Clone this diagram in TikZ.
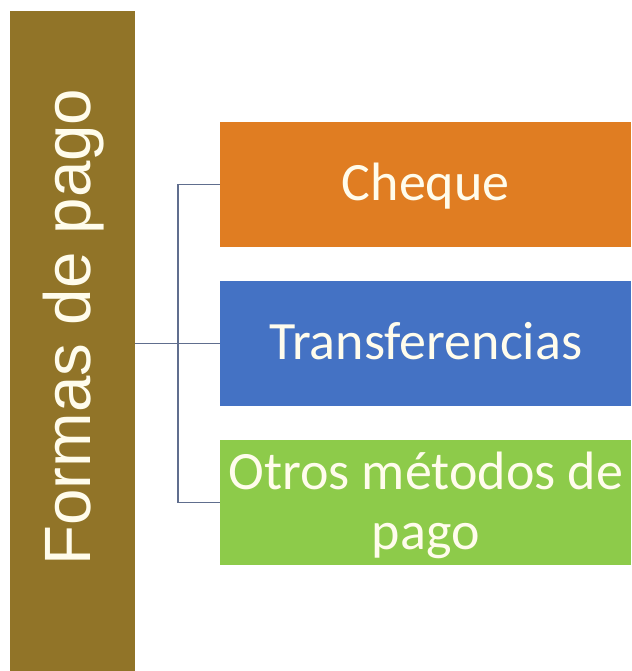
\documentclass[tikz,border=0pt]{standalone}
\usepackage{fontspec}
\usetikzlibrary{positioning}
\newfontfamily\barfont{Liberation Sans}
\newfontfamily\boxfont{Carlito}
\definecolor{cBar}{RGB}{145,116,40}
\definecolor{cCheque}{RGB}{224,125,34}
\definecolor{cTransf}{RGB}{68,114,196}
\definecolor{cOtros}{RGB}{141,203,74}
\definecolor{cLink}{RGB}{96,110,142}
\definecolor{tCream}{RGB}{255,252,236}

\begin{document}
\begin{tikzpicture}[
    x=1pt, y=-1pt,
    node distance=33.5pt,
    item/.style={
        fill=#1,
        minimum width=411pt,
        minimum height=125pt,
        inner sep=0pt,
        align=center,
        text=tCream,
        font=\boxfont\fontsize{54}{60}\selectfont
    },
    oneline/.style={text height=35pt, text depth=4pt},
    link/.style={draw=cLink, line width=1.4pt}
]

\useasboundingbox (0,0) rectangle (631,671);

% Left bar
\node[fill=cBar, minimum width=125pt, minimum height=660pt, inner sep=0pt,
      anchor=north west] (bar) at (10,11) {};
\node[rotate=90, anchor=base, text=tCream,
      font=\barfont\fontsize{65.5}{70}\selectfont] (title) at (90,327) {Formas de pago};

% Right column
\node[item=cCheque, oneline, anchor=north west] (cheque) at (220,122) {Cheque};
\node[item=cTransf, oneline, below=of cheque] (transf) {Transferencias};
\node[item=cOtros, below=of transf] (otros) {};
\node[text=tCream, font=\boxfont\fontsize{54}{60}\selectfont, align=center,
      inner sep=0pt, yshift=-3pt] (otros_txt) at (otros.center) {Otros métodos de\\pago};

% Bracket
\coordinate (tronco) at (178,343);
\draw[link] (bar.east |- transf.west) -- (transf.west);
\draw[link] (cheque.west) -| (tronco) |- (otros.west);

\end{tikzpicture}
\end{document}
